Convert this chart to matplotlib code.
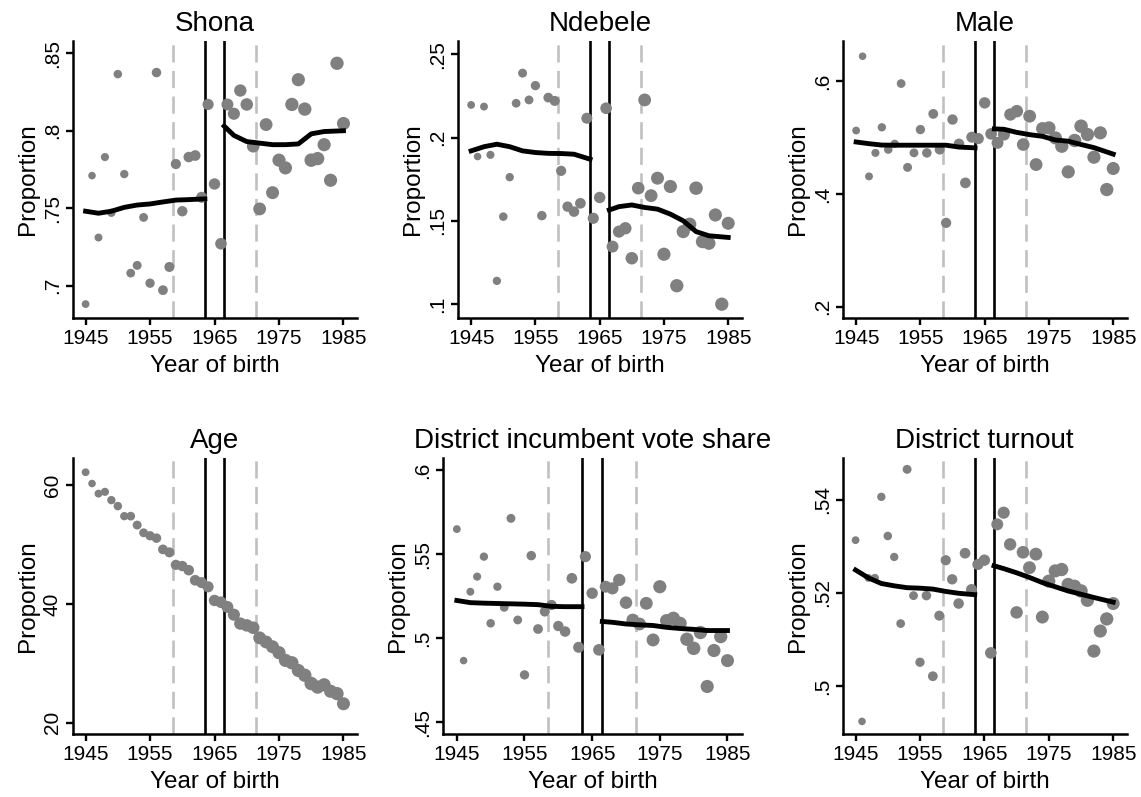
import numpy as np
import matplotlib
matplotlib.use("Agg")
import matplotlib.pyplot as plt

plt.rcParams['font.family'] = ['Liberation Sans', 'DejaVu Sans']

years = list(range(1945, 1986))

# relative cohort weight (drives marker area)
cohort_weight = [.35, .33, .36, .38, .40, .42, .40, .44, .46, .45,
                 .50, .52, .55, .58, .60, .62, .64, .66, .70, .72,
                 .75, .78, .82, .85, .88, .90, .92, .95, .95, .97,
                 1.0, 1.0, 1.02, 1.0, 1.03, 1.05, 1.02, 1.0, 1.0, 1.02, .98]

shona = [.688, .771, .731, .783, .747, .8366, .772, .708, .713, .744,
         .7015, .8376, .697, .712, .7785, .748, .783, .784, .757, .817,
         .7656, .727, .817, .811, .826, .817, .790, .7495, .804, .760,
         .781, .776, .817, .833, .814, .781, .782, .791, .768, .8436, .8047]
ndebele = [.2196, .1886, .2186, .1896, .1139, .1525, .1762, .2206, .2387, .2226,
           .2312, .1531, .224, .222, .180, .1585, .1555, .1605, .2116, .1515,
           .164, .2176, .1345, .1435, .1455, .1275, .1696, .2226, .1651, .1756,
           .1299, .1706, .111, .1435, .1479, .1696, .1375, .1365, .1535, .0999, .1485]
male = [.5123, .644, .431, .4727, .518, .4786, .4887, .5956, .447, .4727,
        .514, .4727, .5418, .4786, .3486, .5318, .4887, .4195, .5005, .498,
        .5613, .5064, .4904, .5052, .5407, .5466, .4875, .5377, .452, .5158,
        .517, .4993, .4845, .439, .4946, .52, .5052, .465, .5082, .4077, .445]
age = [62.2, 60.3, 58.6, 58.9, 57.5, 56.5, 54.8, 54.8, 53.3, 52.0,
       51.5, 51.1, 49.2, 48.7, 46.6, 46.4, 45.7, 44.0, 43.6, 42.9,
       40.6, 40.3, 39.5, 38.2, 36.7, 36.4, 36.0, 34.3, 33.6, 32.8,
       31.8, 30.5, 30.1, 28.8, 28.0, 26.6, 26.0, 26.4, 25.3, 24.9, 23.2]
vote_share = [.565, .4867, .5277, .5367, .5486, .5089, .5307, .5184, .5714, .5109,
              .4782, .5492, .5055, .5159, .5198, .5073, .504, .5357, .4946, .5486,
              .5268, .4931, .5307, .5297, .5347, .5212, .5109, .5085, .5208, .499,
              .5307, .5105, .5119, .5089, .4994, .494, .5034, .4713, .4927, .501, .4867]
turnout = [.5313, .4924, .5232, .5232, .5406, .5322, .5277, .5134, .5465, .5194,
           .5051, .5194, .5021, .5151, .527, .5229, .5177, .5285, .5207, .5261,
           .527, .5071, .5347, .5372, .5304, .5158, .5287, .5254, .5283, .5148,
           .5225, .5247, .525, .5218, .5214, .5204, .5184, .5075, .5118, .5144, .5177]

# local fits either side of the donut
fit_left_x = [1945, 1947, 1949, 1951, 1953, 1955, 1957, 1959, 1961, 1963.5]
fit_right_x = [1966.5, 1968, 1970, 1972, 1974, 1976, 1978, 1980, 1982, 1985]
shona_fit_l = [.748, .7467, .748, .7505, .752, .7527, .754, .7552, .7555, .756]
shona_fit_r = [.803, .797, .793, .792, .791, .791, .7915, .798, .7995, .800]
ndebele_fit_l = [.192, .1945, .196, .1945, .192, .191, .1905, .1904, .19, .187]
ndebele_fit_r = [.1565, .1585, .1595, .158, .157, .154, .150, .1435, .141, .140]
male_fit_l = [.492, .489, .4865, .4863, .4863, .4863, .4863, .4863, .483, .4816]
male_fit_r = [.5152, .5145, .509, .505, .502, .4955, .4934, .4875, .482, .4705]
vote_fit_l = [.5225, .5212, .5209, .5207, .5205, .5203, .52, .519, .5188, .5188]
vote_fit_r = [.51, .5095, .5085, .508, .5076, .5065, .5058, .5053, .5046, .5046]
turnout_fit_l = [.5249, .5232, .522, .5215, .5211, .521, .5208, .5203, .5199, .5196]
turnout_fit_r = [.5258, .5252, .5243, .5233, .5222, .5213, .5204, .5197, .519, .518]

donut = [1963.5, 1966.5]
bandwidth = [1958.5, 1971.5]

panels = [
    ("Shona", shona, shona_fit_l, shona_fit_r, (0.679, 0.858),
     [.7, .75, .8, .85], [".7", ".75", ".8", ".85"], (72.7, 357, 41, 318)),
    ("Ndebele", ndebele, ndebele_fit_l, ndebele_fit_r, (0.0916, 0.258),
     [.1, .15, .2, .25], [".1", ".15", ".2", ".25"], (458.3, 741.7, 41, 318)),
    ("Male", male, male_fit_l, male_fit_r, (0.18, 0.671),
     [.2, .4, .6], [".2", ".4", ".6"], (843.3, 1126.7, 41, 318)),
    ("Age", age, None, None, (18.1, 64.65),
     [20, 40, 60], ["20", "40", "60"], (72.7, 357, 457.7, 734)),
    ("District incumbent vote share", vote_share, vote_fit_l, vote_fit_r, (0.443, 0.6075),
     [.45, .5, .55, .6], [".45", ".5", ".55", ".6"], (443.3, 741.7, 457.7, 734)),
    ("District turnout", turnout, turnout_fit_l, turnout_fit_r, (0.4897, 0.549),
     [.5, .52, .54], [".5", ".52", ".54"], (842.7, 1126.7, 457.7, 734)),
]

W, H = 1141, 797
fig = plt.figure(figsize=(W / 100, H / 100), dpi=100)
sizes = np.array(cohort_weight) * 90

for title, vals, fl, fr, ylim, yt, ytl, (l, r, t, b) in panels:
    ax = fig.add_axes([l / W, 1 - b / H, (r - l) / W, (b - t) / H])
    for xv in bandwidth:
        ax.axvline(xv, color='#c0c0c0', lw=1.9, dashes=(6.5, 3.2), zorder=1)
    for xv in donut:
        ax.axvline(xv, color='black', lw=1.9, zorder=2)
    ax.scatter(years, vals, s=sizes, color='#808080', edgecolors='none', zorder=3)
    if fl is not None:
        ax.plot(fit_left_x, fl, color='black', lw=3.5, zorder=4)
        ax.plot(fit_right_x, fr, color='black', lw=3.5, zorder=4)

    ax.set_xlim(1943, 1987.1)
    ax.set_ylim(*ylim)
    ax.set_xticks([1945, 1955, 1965, 1975, 1985])
    ax.set_yticks(yt)
    ax.set_yticklabels(ytl)
    ax.spines['top'].set_visible(False)
    ax.spines['right'].set_visible(False)
    for s in ['left', 'bottom']:
        ax.spines[s].set_linewidth(1.8)
    ax.tick_params(axis='both', length=4.8, width=1.7, labelsize=15, pad=3)
    ax.tick_params(axis='y', labelrotation=90)
    for lab in ax.get_yticklabels():
        lab.set_va('center')
    ax.set_title(title, fontsize=20, pad=7)
    ax.set_xlabel("Year of birth", fontsize=17.5, labelpad=5)
    ax.set_ylabel("Proportion", fontsize=17.5, labelpad=3)

fig.savefig("out.png", dpi=100)
